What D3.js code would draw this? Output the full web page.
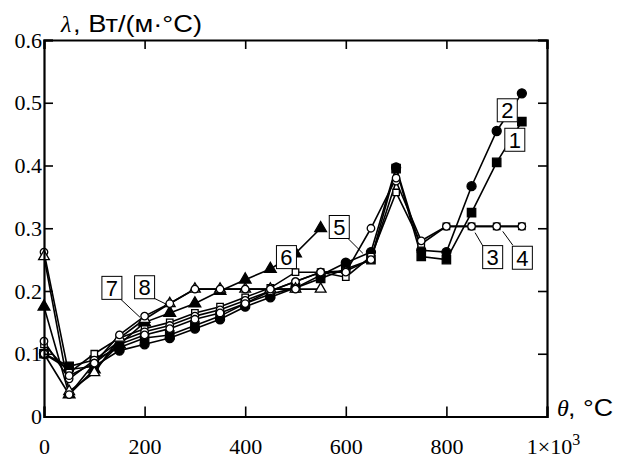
<!DOCTYPE html>
<html><head><meta charset="utf-8">
<script src="https://cdn.jsdelivr.net/npm/d3@7"></script>
<style>
body{margin:0;background:#fff;}
svg{display:block;}
.serif{font-family:"Liberation Serif","Times New Roman",serif;}
.sans{font-family:"Liberation Sans",Arial,sans-serif;}
</style></head>
<body>
<svg id="chart" width="617" height="459"></svg>
<script>
// ---- data ----
const theta = [0,50,100,150,200,250,300,350,400,450,500,550,600,650,700,750,800,850,900,950];
const series1 = [0.100,0.080,0.090,0.110,0.125,0.130,0.145,0.160,0.180,0.195,0.205,0.220,0.235,0.250,0.395,0.255,0.250,0.325,0.405,0.470];
const series2 = [0.100,0.075,0.080,0.105,0.115,0.125,0.140,0.155,0.175,0.190,0.205,0.225,0.245,0.262,0.397,0.265,0.262,0.367,0.455,0.515];
const series3 = [0.115,0.070,0.100,0.125,0.140,0.150,0.165,0.175,0.190,0.205,0.230,0.230,0.222,0.255,0.357,0.275,0.303,0.303,0.303,0.303];
const series4 = [0.120,0.060,0.090,0.120,0.135,0.145,0.160,0.170,0.185,0.200,0.215,0.230,0.232,0.250,0.375,0.280,0.303,0.303,0.303,0.303];
const series5 = [0.262,0.065,0.085,0.115,0.130,0.140,0.155,0.165,0.180,0.200,0.215,0.230,0.230,0.300,0.380,null,null,null,null,null];
const series6 = [0.175,0.035,0.075,0.115,0.150,0.165,0.180,0.200,0.218,0.235,0.260,0.300,null,null,null,null,null,null,null,null];
const series7 = [0.255,0.040,0.070,0.125,0.155,0.180,0.203,0.203,0.203,0.203,0.203,0.203,null,null,null,null,null,null,null,null];
const series8 = [0.100,0.035,0.085,0.130,0.160,0.180,0.203,0.203,0.203,0.203,0.203,null,null,null,null,null,null,null,null,null];
const seriesValues = [series1,series2,series3,series4,series5,series6,series7,series8];
const seriesMarkers = ["squareFilled","circleFilled","squareOpen","circleOpen","circleOpen","triangleFilled","triangleOpen","circleOpen"];

const xTicks = [0,200,400,600,800,1000];
const xTickLabels = ["0","200","400","600","800","1×10"];
const yTicks = [0,0.1,0.2,0.3,0.4,0.5,0.6];
const yTickLabels = ["0","0.1","0.2","0.3","0.4","0.5","0.6"];

// annotation labels (data coordinates)
const labelNames = ["1","2","3","4","5","6","7","8"];
const labelX = [936,921,892,951,587,482,135,200];
const labelY = [0.441,0.488,0.254,0.253,0.302,0.254,0.205,0.206];
const leaderFromX = [null,null,857,912,604,null,151,215];
const leaderFromY = [null,null,0.293,0.295,0.284,null,0.188,0.190];
const leaderToX = [null,null,873,932,634,null,191,243];
const leaderToY = [null,null,0.271,0.273,0.260,null,0.158,0.179];

// ---- drawing ----
const svg = d3.select("#chart");
const x = d3.scaleLinear().domain([0,1000]).range([44,547]);
const y = d3.scaleLinear().domain([0,0.6]).range([416.5,40]);

// series lines
const line = d3.line().defined(d=>d[1]!=null).x(d=>x(d[0])).y(d=>y(d[1]));
seriesValues.forEach((vals,i)=>{
  const pts = theta.map((t,j)=>[t,vals[j]]);
  svg.append("path").datum(pts).attr("d",line)
    .attr("fill","none").attr("stroke","#000").attr("stroke-width",1.6);
});
// markers
const markerDefs = {
  squareFilled:{type:d3.symbolSquare,size:70,fill:"#000"},
  circleFilled:{type:d3.symbolCircle,size:64,fill:"#000"},
  squareOpen:{type:d3.symbolSquare,size:42,fill:"#fff"},
  circleOpen:{type:d3.symbolCircle,size:44,fill:"#fff"},
  triangleFilled:{type:d3.symbolTriangle,size:60,fill:"#000"},
  triangleOpen:{type:d3.symbolTriangle,size:50,fill:"#fff"}
};
seriesValues.forEach((vals,i)=>{
  const m = markerDefs[seriesMarkers[i]];
  const pts = theta.map((t,j)=>[t,vals[j]]).filter(d=>d[1]!=null);
  svg.append("g").selectAll("path").data(pts).join("path")
    .attr("d",d3.symbol().type(m.type).size(m.size))
    .attr("transform",d=>`translate(${x(d[0])},${y(d[1])})`)
    .attr("fill",m.fill).attr("stroke","#000").attr("stroke-width",1.3);
});

// axes
const axL = svg.append("g").attr("transform",`translate(${x(0)},0)`)
  .call(d3.axisLeft(y).tickValues(yTicks).tickSize(-9).tickPadding(2)
    .tickFormat((d,i)=>yTickLabels[i]));
const axR = svg.append("g").attr("transform",`translate(${x(1000)},0)`)
  .call(d3.axisRight(y).tickValues(yTicks).tickSize(-9).tickFormat(""));
const axB = svg.append("g").attr("transform",`translate(0,${y(0)})`)
  .call(d3.axisBottom(x).tickValues(xTicks).tickSize(-10).tickPadding(22)
    .tickFormat((d,i)=>xTickLabels[i]));
const axT = svg.append("g").attr("transform",`translate(0,${y(0.6)})`)
  .call(d3.axisTop(x).tickValues(xTicks).tickSize(-9).tickFormat(""));
[axL,axR,axB,axT].forEach(a=>{
  a.attr("font-family",null).attr("font-size",null);
  a.select(".domain").attr("stroke","#000").attr("stroke-width",2.2);
  a.selectAll(".tick line").attr("stroke","#000").attr("stroke-width",1.6);
  a.selectAll(".tick text").attr("fill","#000").attr("class","serif")
    .style("font-size","22px");
});
// superscript on last x label
axB.selectAll(".tick text").filter((d)=>d===1000)
  .attr("dx","6").append("tspan").attr("dy","-0.55em").style("font-size","16px").text("3");

// axis titles
svg.append("text").attr("class","serif").attr("x",61).attr("y",32)
  .style("font-size","24px").style("font-style","italic").attr("fill","#000").text("λ");
svg.append("text").attr("class","sans").attr("x",73).attr("y",32)
  .style("font-size","24px").attr("fill","#000")
  .attr("textLength",129).attr("lengthAdjust","spacingAndGlyphs").text(", Вт/(м·°C)");
svg.append("text").attr("class","serif").attr("x",557).attr("y",416)
  .style("font-size","24px").style("font-style","italic").attr("fill","#000").text("θ");
svg.append("text").attr("class","sans").attr("x",568).attr("y",416)
  .style("font-size","24px").attr("fill","#000")
  .attr("textLength",45).attr("lengthAdjust","spacingAndGlyphs").text(", °C");

// leaders
labelNames.forEach((n,i)=>{
  if(leaderFromX[i]!=null){
    svg.append("line").attr("x1",x(leaderFromX[i])).attr("y1",y(leaderFromY[i]))
      .attr("x2",x(leaderToX[i])).attr("y2",y(leaderToY[i]))
      .attr("stroke","#000").attr("stroke-width",1);
  }
});
// label boxes
labelNames.forEach((n,i)=>{
  const cx = x(labelX[i]), cy = y(labelY[i]);
  svg.append("rect").attr("x",cx-10).attr("y",cy-11.5).attr("width",20).attr("height",23)
    .attr("fill","#fff").attr("stroke","#000").attr("stroke-width",1);
  svg.append("text").attr("class","sans").attr("x",cx).attr("y",cy+8).attr("text-anchor","middle")
    .style("font-size","22px").attr("fill","#000").text(n);
});
</script>
</body></html>
